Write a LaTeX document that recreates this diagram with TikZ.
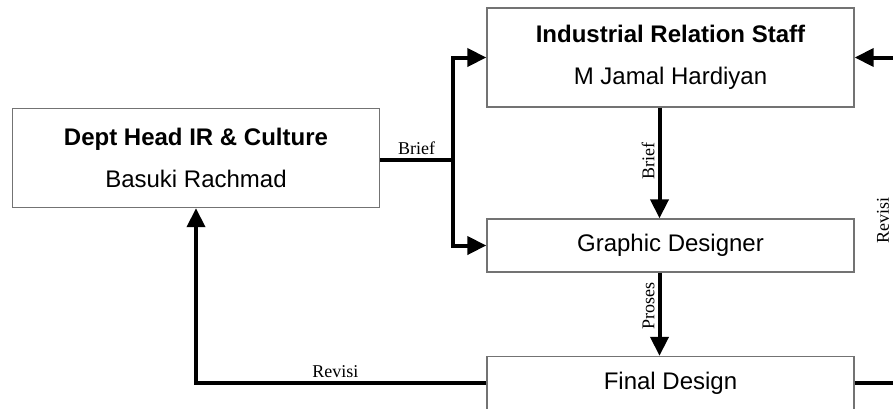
\documentclass[tikz,border=0pt]{standalone}
\usepackage{fontspec}
\setmainfont{Liberation Serif}
\setsansfont{Liberation Sans}
\usepackage{tikz}
\usetikzlibrary{arrows.meta}
\tikzset{
  box/.style = {draw=black!55, line width=0.7pt, rectangle, align=center,
    inner sep=0pt, font=\sffamily\fontsize{12}{21}\selectfont,
    minimum width=183.5pt},% kotak unit
  bigbox/.style = {box, minimum height=49.5pt},% kotak dua baris
  smallbox/.style = {box, minimum height=26.5pt},% kotak satu baris
  flow/.style = {line width=2pt, -{Triangle[length=9.5pt,width=9pt]}},% panah alur
  bus/.style = {line width=2pt},% garis tanpa panah
  lbl/.style = {font=\fontsize{9}{10}\selectfont, inner sep=1.5pt}% label alur
}

\begin{document}
\begin{tikzpicture}[x=0.5pt,y=-0.5pt]
    \useasboundingbox (0,0) rectangle (893,408);
    \clip (0,0) rectangle (893,408);
    % unit
    \node [bigbox] (dept) at (196,158) {\textbf{Dept Head IR \& Culture}\\Basuki Rachmad};
    \node [bigbox] (irs) at (670.5,57.5) {\textbf{Industrial Relation Staff}\\M Jamal Hardiyan};
    \node [smallbox] (gd) at (670.5,245.5) {Graphic Designer};
    \node [smallbox] (fd) at (670.5,383) {Final Design};
    % titik bantu
    \coordinate (split) at (453,160);
    \coordinate (rcorner) at (899,383);
    % alur
    \draw [bus] (dept.east |- split) -- node[lbl, above] {Brief} (split);
    \draw [flow] (split) |- (irs.west);
    \draw [flow] (split) |- (gd.west);
    \draw [flow] ([xshift=-5.5pt]irs.south) -- node[lbl, pos=0.48, rotate=90, anchor=south] {Brief} ([xshift=-5.5pt]gd.north);
    \draw [flow] ([xshift=-5.5pt]gd.south) -- node[lbl, pos=0.4, rotate=90, anchor=south] {Proses} ([xshift=-5.5pt]fd.north);
    \draw [flow] (fd.west) -| node[lbl, above, pos=0.26] {Revisi} (dept.south);
    \draw [flow] (fd.east) -- (rcorner) |- node[lbl, pos=0.25, rotate=90, anchor=south, inner ysep=4pt] {Revisi} (irs.east);
\end{tikzpicture}
\end{document}
